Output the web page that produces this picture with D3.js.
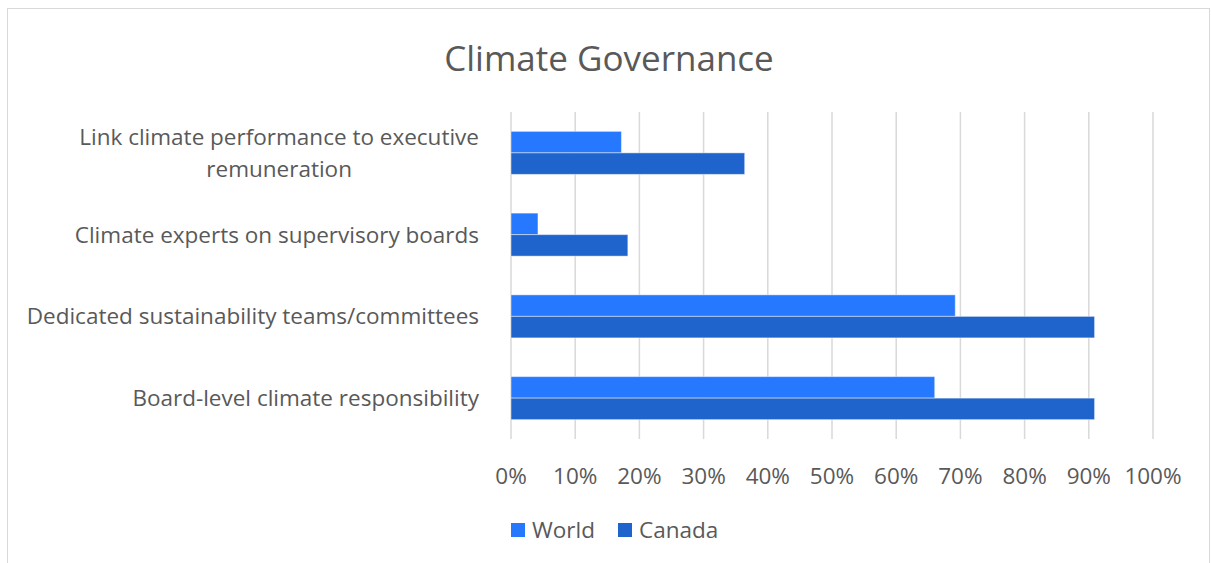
<!DOCTYPE html>
<html lang="en">
  <head>
    <meta charset="UTF-8" />
    <script src="https://cdn.jsdelivr.net/npm/d3@7"></script>
    <title>Climate Governance</title>
    <style>
      body { margin: 0; background: #fff; }
      svg text { font-family: "Open Sans", "Noto Sans", sans-serif; fill: #595959; }
    </style>
  </head>
  <body>
    <div id="chart"></div>
    <script>
      // categories, top to bottom
      var categories = [
        "Link climate performance to executive remuneration",
        "Climate experts on supervisory boards",
        "Dedicated sustainability teams/committees",
        "Board-level climate responsibility"
      ];
      var labelLines = [
        ["Link climate performance to executive", "remuneration"],
        ["Climate experts on supervisory boards"],
        ["Dedicated sustainability teams/committees"],
        ["Board-level climate responsibility"]
      ];
      var seriesNames = ["World", "Canada"];
      var worldValues = [0.172, 0.042, 0.692, 0.66];
      var canadaValues = [0.364, 0.182, 0.909, 0.909];
      var tickValues = [0, 0.1, 0.2, 0.3, 0.4, 0.5, 0.6, 0.7, 0.8, 0.9, 1];
      var colors = { World: "#2678ff", Canada: "#1f64cc" };

      var width = 1211, height = 563;
      var plot = { left: 511, right: 1153, top: 112, bottom: 439 };

      var svg = d3.select("#chart").append("svg")
        .attr("width", width)
        .attr("height", height);

      // chart border
      svg.append("rect")
        .attr("x", 7.5).attr("y", 8.5)
        .attr("width", 1202).attr("height", 620)
        .attr("fill", "#fff")
        .attr("stroke", "#d9d9d9");

      svg.append("text")
        .attr("x", 609).attr("y", 71)
        .attr("text-anchor", "middle")
        .style("font-size", "35px")
        .text("Climate Governance");

      var x = d3.scaleLinear().domain([0, 1]).range([plot.left, plot.right]);
      var y = d3.scaleBand().domain(categories).range([plot.top, plot.bottom]);
      var ySub = d3.scaleBand().domain(seriesNames)
        .range([0, y.bandwidth()])
        .paddingOuter(0.9);

      // gridlines
      svg.append("g").selectAll("line")
        .data(tickValues)
        .join("line")
        .attr("x1", function (d) { return x(d); })
        .attr("x2", function (d) { return x(d); })
        .attr("y1", plot.top).attr("y2", plot.bottom)
        .attr("stroke", "#d9d9d9")
        .attr("stroke-width", 1.5);

      // x axis labels
      svg.append("g").selectAll("text")
        .data(tickValues)
        .join("text")
        .attr("x", function (d) { return x(d); })
        .attr("y", 484)
        .attr("text-anchor", "middle")
        .style("font-size", "22.5px")
        .text(function (d) { return d3.format(".0%")(d); });

      var rows = categories.map(function (c, i) {
        return [
          { cat: c, series: "World", value: worldValues[i] },
          { cat: c, series: "Canada", value: canadaValues[i] }
        ];
      });

      svg.append("g").selectAll("g")
        .data(rows)
        .join("g")
        .attr("transform", function (d) { return "translate(0," + y(d[0].cat) + ")"; })
        .selectAll("rect")
        .data(function (d) { return d; })
        .join("rect")
        .attr("x", x(0))
        .attr("y", function (d) { return ySub(d.series); })
        .attr("width", function (d) { return x(d.value) - x(0); })
        .attr("height", ySub.bandwidth())
        .attr("fill", function (d) { return colors[d.series]; })
        .attr("stroke", "rgba(255,255,255,0.45)")
        .attr("stroke-width", 1);

      // category labels
      var labels = svg.append("g").selectAll("text")
        .data(categories)
        .join("text")
        .attr("text-anchor", "end")
        .style("font-size", "22.5px")
        .attr("transform", function (d) {
          return "translate(479," + (y(d) + y.bandwidth() / 2) + ")";
        });
      labels.each(function (d, i) {
        var lines = labelLines[i];
        var t = d3.select(this);
        lines.forEach(function (line, j) {
          var off = (j - (lines.length - 1) / 2) * 32;
          t.append("tspan")
            .attr("x", 0)
            .attr("y", off + 8)
            .attr("text-anchor", lines.length > 1 ? "middle" : "end")
            .text(line);
        });
      });
      // center multi-line labels on the widest line
      labels.each(function (d, i) {
        if (labelLines[i].length < 2) return;
        var spans = d3.select(this).selectAll("tspan");
        var w = spans.nodes()[0].getComputedTextLength();
        spans.attr("x", -w / 2);
      });

      // legend
      var legend = svg.append("g").attr("transform", "translate(511,530)");
      var legendX = [0, 107];
      seriesNames.forEach(function (s, i) {
        var g = legend.append("g").attr("transform", "translate(" + legendX[i] + ",0)");
        g.append("rect")
          .attr("x", 0).attr("y", -7)
          .attr("width", 14).attr("height", 14)
          .attr("fill", colors[s]);
        g.append("text")
          .attr("x", 21).attr("y", 8)
          .style("font-size", "22.5px")
          .text(s);
      });
    </script>
  </body>
</html>
